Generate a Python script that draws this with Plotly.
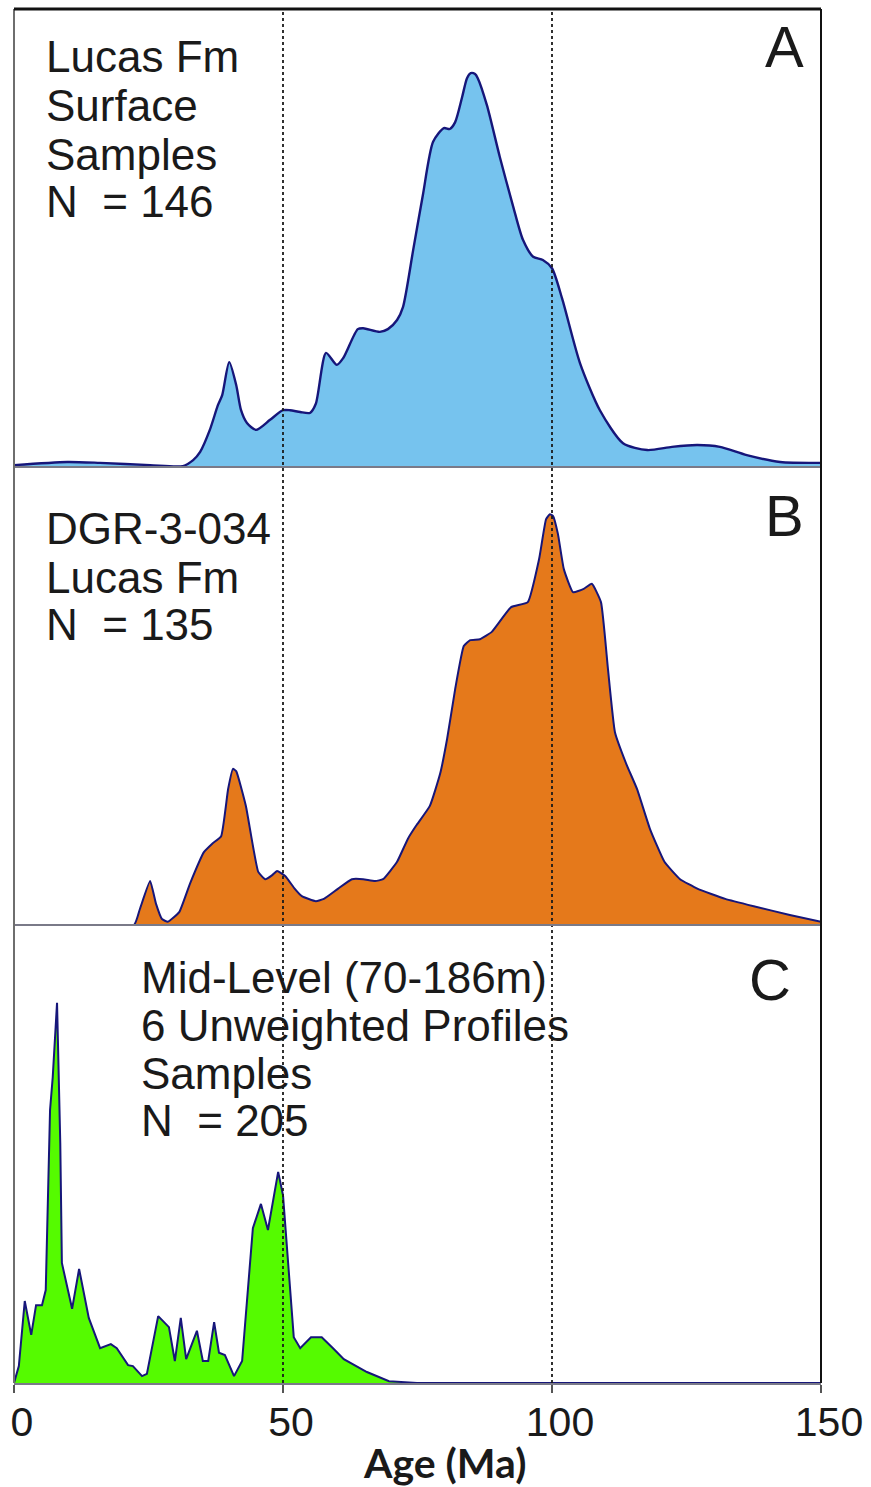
import plotly.graph_objects as go

# ---------------- data (Age in Ma, relative probability) ----------------
age_a = [0.0, 9.9, 16.0, 25.3, 31.4, 33.3, 34.6, 36.4, 37.9, 38.7, 40.0, 41.3, 42.2, 43.3,
         45.0, 47.6, 50.0, 51.3, 53.2, 55.0, 56.1, 58.0, 60.0, 61.2, 63.9, 64.9, 68.0, 69.5,
         71.2, 72.3, 74.2, 76.0, 77.9, 79.9, 81.0, 82.0, 83.3, 84.2, 84.9, 85.7, 86.2, 87.9,
         90.3, 92.8, 94.6, 96.5, 98.3, 100.0, 101.9, 105.2, 108.9, 113.2, 117.7, 122.3,
         127.0, 131.2, 136.2, 142.4, 150.0]
prob_a = [0.004, 0.011, 0.009, 0.004, 0.002, 0.015, 0.033, 0.081, 0.135, 0.157, 0.229, 0.179,
          0.124, 0.096, 0.081, 0.103, 0.124, 0.124, 0.120, 0.118, 0.138, 0.249, 0.223, 0.238,
          0.301, 0.303, 0.295, 0.301, 0.321, 0.349, 0.474, 0.594, 0.710, 0.740, 0.738, 0.753,
          0.808, 0.849, 0.860, 0.858, 0.849, 0.790, 0.677, 0.568, 0.496, 0.459, 0.452, 0.434,
          0.367, 0.227, 0.124, 0.052, 0.037, 0.044, 0.048, 0.044, 0.026, 0.011, 0.009]

age_b = [0.0, 22.3, 23.4, 25.3, 26.4, 27.5, 28.6, 30.7, 32.7, 35.3, 36.8, 38.5, 39.8, 40.7,
         41.3, 43.1, 45.4, 46.7, 48.0, 48.9, 50.4, 52.2, 53.5, 56.1, 57.6, 60.2, 62.8, 64.9,
         67.1, 68.6, 71.2, 73.2, 74.7, 77.3, 79.2, 80.5, 82.0, 83.6, 84.8, 86.6, 88.8, 92.4,
         95.5, 97.6, 98.9, 99.6, 100.2, 101.1, 102.2, 103.9, 105.9, 107.4, 109.1, 110.4,
         111.7, 113.8, 115.8, 118.2, 120.9, 123.8, 127.1, 132.2, 137.5, 144.2, 150.0]
prob_b = [0.0, 0.0, 0.035, 0.096, 0.046, 0.013, 0.007, 0.028, 0.090, 0.159, 0.177, 0.194,
          0.297, 0.341, 0.336, 0.260, 0.116, 0.100, 0.109, 0.118, 0.107, 0.079, 0.063, 0.052,
          0.057, 0.079, 0.100, 0.100, 0.096, 0.100, 0.138, 0.188, 0.216, 0.260, 0.330, 0.406,
          0.515, 0.609, 0.622, 0.624, 0.640, 0.694, 0.705, 0.799, 0.886, 0.897, 0.893, 0.854,
          0.777, 0.727, 0.734, 0.745, 0.705, 0.559, 0.421, 0.352, 0.297, 0.210, 0.138, 0.100,
          0.079, 0.057, 0.041, 0.022, 0.007]

age_c = [0.0, 0.9, 2.0, 3.2, 4.1, 5.2, 5.9, 6.7, 7.2, 8.0, 8.6, 8.9, 10.8, 12.1, 13.9, 16.0,
         18.0, 19.1, 21.2, 22.1, 23.8, 24.7, 26.8, 28.8, 29.9, 31.0, 32.0, 34.0, 35.1, 36.1,
         37.2, 38.1, 39.2, 40.9, 42.4, 44.4, 45.9, 47.2, 49.1, 50.0, 52.0, 53.2, 55.2, 57.2,
         59.3, 61.3, 65.6, 69.7, 74.9, 150.0]
prob_c = [0.0, 0.037, 0.179, 0.105, 0.170, 0.170, 0.203, 0.596, 0.668, 0.830, 0.524, 0.262,
          0.162, 0.249, 0.142, 0.076, 0.085, 0.076, 0.039, 0.037, 0.015, 0.020, 0.146, 0.122,
          0.048, 0.142, 0.052, 0.114, 0.048, 0.048, 0.133, 0.066, 0.061, 0.015, 0.048, 0.338,
          0.391, 0.334, 0.461, 0.410, 0.100, 0.076, 0.100, 0.100, 0.076, 0.052, 0.024, 0.004,
          0.0, 0.0]

tick_vals = [0, 50, 100, 150]
tick_text = ["0", "50", "100", "150"]
ref_ages = [50, 100]

label_a = ["Lucas Fm", "Surface", "Samples", "N  = 146"]
label_b = ["DGR-3-034", "Lucas Fm", "N  = 135"]
label_c = ["Mid-Level (70-186m)", "6 Unweighted Profiles", "Samples", "N  = 205"]
panel_letters = ["A", "B", "C"]

# ---------------- figure ----------------
W, H = 871, 1487
ML, MR, MT, MB = 14, 50, 9, 104
PW, PH = W - ML - MR, H - MT - MB
LINE = "#16167a"
TXT = "#1a1a1a"
FONT = "Liberation Sans, Arial, sans-serif"
LABEL_SIZE = 44

fig = go.Figure()
fig.add_trace(go.Scatter(x=age_c, y=prob_c, xaxis="x", yaxis="y", mode="lines",
                         fill="tozeroy", fillcolor="#55fb00",
                         line=dict(color=LINE, width=2), line_shape="linear",
                         showlegend=False, hoverinfo="skip"))
fig.add_trace(go.Scatter(x=age_b, y=prob_b, xaxis="x", yaxis="y2", mode="lines",
                         fill="tozeroy", fillcolor="#e5791b",
                         line=dict(color=LINE, width=2, shape="spline", smoothing=0.4),
                         showlegend=False, hoverinfo="skip"))
fig.add_trace(go.Scatter(x=age_a, y=prob_a, xaxis="x", yaxis="y3", mode="lines",
                         fill="tozeroy", fillcolor="#76c3ee",
                         line=dict(color=LINE, width=2.4, shape="spline", smoothing=0.7),
                         showlegend=False, hoverinfo="skip"))


def px_to_py(py):
    return (H - MB - py) / PH


def px_to_px(px):
    return (px - ML) / PW


annotations = []
for txt, yc in zip(label_a, [57, 106, 154, 201]):
    annotations.append(dict(text=txt, x=px_to_px(44), y=px_to_py(yc), xref="paper", yref="paper",
                            xanchor="left", yanchor="middle", showarrow=False,
                            font=dict(family=FONT, size=LABEL_SIZE, color=TXT)))
for txt, yc in zip(label_b, [528, 577, 624]):
    annotations.append(dict(text=txt, x=px_to_px(44), y=px_to_py(yc), xref="paper", yref="paper",
                            xanchor="left", yanchor="middle", showarrow=False,
                            font=dict(family=FONT, size=LABEL_SIZE, color=TXT)))
for txt, yc in zip(label_c, [977, 1025, 1073, 1120]):
    annotations.append(dict(text=txt, x=px_to_px(139), y=px_to_py(yc), xref="paper", yref="paper",
                            xanchor="left", yanchor="middle", showarrow=False,
                            font=dict(family=FONT, size=LABEL_SIZE, color=TXT)))
for letter, (cx, cy) in zip(panel_letters, [(784, 47), (784, 515), (770, 979)]):
    annotations.append(dict(text=letter, x=px_to_px(cx), y=px_to_py(cy), xref="paper", yref="paper",
                            xanchor="center", yanchor="middle", showarrow=False,
                            font=dict(family=FONT, size=58, color=TXT)))
annotations.append(dict(text="<b>Age (Ma)</b>", x=px_to_px(444), y=px_to_py(1462),
                        xref="paper", yref="paper", xanchor="center", yanchor="middle",
                        showarrow=False, font=dict(family="Lato, Open Sans, sans-serif",
                                                   size=41, color=TXT)))

shapes = []
for a in ref_ages:
    shapes.append(dict(type="line", xref="x", yref="paper", x0=a, x1=a, y0=0, y1=1,
                       line=dict(color="#1a1a1a", width=1.8, dash="3px,3px"), layer="above"))
for yv in [1 / 3, 2 / 3]:
    shapes.append(dict(type="line", xref="paper", yref="paper", x0=0, x1=1, y0=yv, y1=yv,
                       line=dict(color="#7a7a88", width=2), layer="above"))
shapes.append(dict(type="line", xref="paper", yref="paper", x0=0, x1=0, y0=0, y1=1,
                   line=dict(color="#6e6e6e", width=2), layer="above"))
shapes.append(dict(type="line", xref="paper", yref="paper", x0=1, x1=1, y0=0, y1=1,
                   line=dict(color="#111111", width=2), layer="above"))
shapes.append(dict(type="line", xref="paper", yref="paper", x0=0, x1=1, y0=1, y1=1,
                   line=dict(color="#111111", width=3), layer="above"))

fig.update_layout(
    width=W, height=H,
    margin=dict(l=ML, r=MR, t=MT, b=MB),
    paper_bgcolor="white", plot_bgcolor="white",
    xaxis=dict(range=[0, 150], tickvals=tick_vals, ticktext=tick_text, anchor="y",
               showgrid=False, zeroline=False, showline=True, linecolor="#7a7a88",
               linewidth=2, ticks="outside", ticklen=8, tickwidth=2, tickcolor="#555555",
               tickfont=dict(family=FONT, size=41, color=TXT), ticklabelshift=8,
               ticklabelstandoff=-6),
    yaxis=dict(domain=[0, 1 / 3], range=[0, 1], visible=False, fixedrange=True),
    yaxis2=dict(domain=[1 / 3, 2 / 3], range=[0, 1], visible=False, anchor="x"),
    yaxis3=dict(domain=[2 / 3, 1], range=[0, 1], visible=False, anchor="x"),
    annotations=annotations,
    shapes=shapes,
)

fig.write_html("out.html")
